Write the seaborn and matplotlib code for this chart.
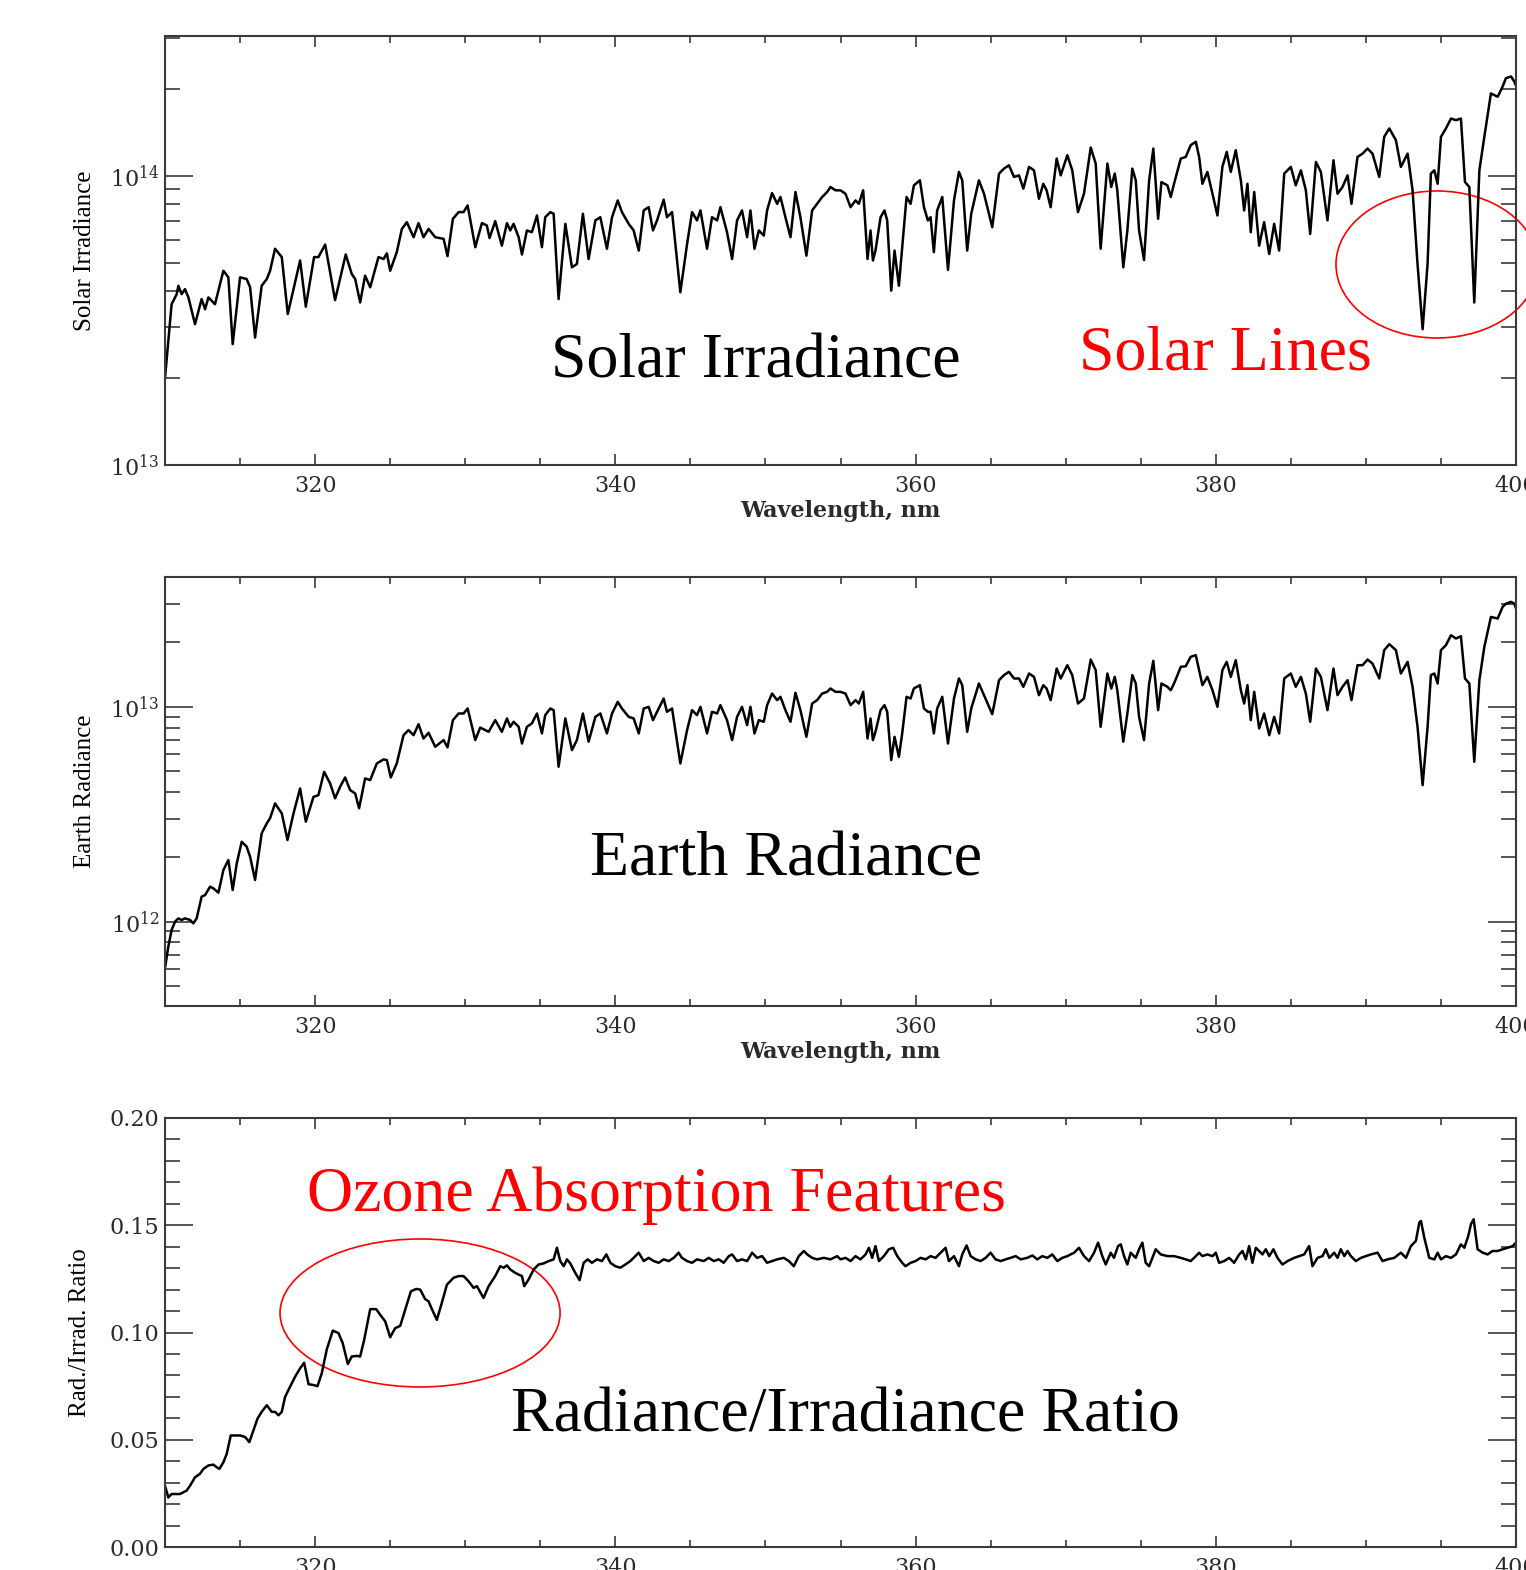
import matplotlib
matplotlib.use("Agg")
import matplotlib.pyplot as plt
import numpy as np
import pandas as pd
import seaborn as sns
from matplotlib.patches import Ellipse
from matplotlib.ticker import MultipleLocator, FixedLocator, NullFormatter, FixedFormatter, FormatStrFormatter

# ---------------- data ----------------
# Solar irradiance, units of 1e13
solar_wl = [
    310.0, 310.44, 310.78, 310.89, 311.11, 311.33, 311.56, 312.0, 312.44, 312.67,
    312.89, 313.33, 313.89, 314.22, 314.51, 315.0, 315.44, 315.67, 316.0, 316.44,
    316.78, 317.0, 317.33, 317.78, 318.18, 319.0, 319.38, 319.93, 320.22, 320.67,
    321.33, 322.04, 322.44, 322.67, 323.0, 323.33, 323.67, 324.22, 324.56, 324.78,
    325.0, 325.44, 325.78, 326.11, 326.56, 326.89, 327.22, 327.56, 328.0, 328.56,
    328.82, 329.18, 329.56, 329.89, 330.16, 330.67, 331.11, 331.44, 331.62, 332.0,
    332.44, 332.78, 333.0, 333.22, 333.56, 333.78, 334.11, 334.44, 334.78, 335.11,
    335.33, 335.67, 335.89, 336.22, 336.67, 337.11, 337.44, 337.84, 338.22, 338.67,
    339.0, 339.44, 339.78, 340.16, 340.44, 340.89, 341.22, 341.56, 341.89, 342.22,
    342.51, 342.78, 343.22, 343.44, 343.78, 344.33, 344.78, 345.11, 345.44, 345.67,
    346.11, 346.44, 346.78, 347.0, 347.44, 347.78, 348.11, 348.44, 348.78, 349.0,
    349.27, 349.56, 349.89, 350.11, 350.44, 350.78, 351.0, 351.33, 351.67, 352.0,
    352.33, 352.73, 353.11, 353.44, 353.78, 354.11, 354.33, 354.67, 355.0, 355.33,
    355.67, 356.0, 356.22, 356.51, 356.8, 357.0, 357.16, 357.33, 357.67, 357.93,
    358.11, 358.38, 358.6, 358.89, 359.11, 359.4, 359.67, 359.89, 360.29, 360.56,
    360.82, 361.0, 361.22, 361.44, 361.78, 362.16, 362.56, 362.89, 363.11, 363.44,
    363.71, 364.22, 364.56, 365.11, 365.56, 365.89, 366.22, 366.56, 366.89, 367.18,
    367.56, 367.89, 368.22, 368.51, 368.73, 369.0, 369.4, 369.67, 370.11, 370.44,
    370.82, 371.22, 371.67, 372.0, 372.33, 372.78, 373.04, 373.27, 373.44, 373.84,
    374.11, 374.44, 374.67, 374.89, 375.22, 375.56, 375.84, 376.16, 376.38, 376.78,
    377.0, 377.22, 377.67, 378.0, 378.33, 378.67, 378.89, 379.11, 379.44, 379.78,
    380.11, 380.44, 380.73, 381.0, 381.33, 381.67, 381.89, 382.11, 382.33, 382.56,
    382.89, 383.22, 383.56, 383.89, 384.22, 384.56, 385.0, 385.33, 385.67, 386.0,
    386.29, 386.67, 387.0, 387.44, 387.84, 388.11, 388.44, 388.78, 389.04, 389.44,
    389.78, 390.11, 390.44, 390.89, 391.22, 391.56, 392.0, 392.33, 392.78, 393.11,
    393.44, 393.78, 394.11, 394.33, 394.56, 394.78, 395.0, 395.33, 395.67, 396.0,
    396.33, 396.6, 396.89, 397.22, 397.56, 397.89, 398.33, 398.78, 399.11, 399.33,
    399.67, 399.89, 400.0,
]
solar_irr = [
    2.0, 3.6, 3.9, 4.17, 3.9, 4.06, 3.8, 3.07, 3.75, 3.46,
    3.8, 3.6, 4.7, 4.46, 2.62, 4.46, 4.4, 4.12, 2.76, 4.17,
    4.4, 4.7, 5.6, 5.24, 3.33, 5.1, 3.53, 5.24, 5.24, 5.79,
    3.72, 5.35, 4.58, 4.4, 3.65, 4.52, 4.12, 5.24, 5.16, 5.4,
    4.7, 5.45, 6.56, 6.92, 6.14, 6.87, 6.14, 6.56, 6.14, 6.06,
    5.28, 7.11, 7.5, 7.5, 7.91, 5.67, 6.87, 6.74, 6.1, 6.98,
    5.74, 6.87, 6.48, 6.83, 6.14, 5.35, 6.48, 6.39, 7.3, 5.67,
    7.2, 7.5, 7.4, 3.75, 6.83, 4.83, 4.96, 7.4, 5.16, 7.02,
    7.2, 5.6, 7.2, 8.23, 7.5, 6.83, 6.48, 5.52, 7.6, 7.8,
    6.48, 7.02, 8.28, 7.2, 7.5, 3.96, 5.82, 7.5, 7.02, 7.6,
    5.6, 7.2, 7.02, 7.8, 6.39, 5.16, 7.02, 7.6, 6.14, 7.6,
    5.6, 6.48, 6.22, 7.6, 8.73, 8.01, 8.46, 7.2, 6.14, 8.8,
    7.2, 5.3, 7.6, 8.01, 8.46, 8.8, 9.16, 8.92, 8.92, 8.68,
    7.8, 8.23, 8.01, 8.92, 5.16, 6.48, 5.1, 5.52, 7.2, 7.6,
    7.02, 4.01, 5.52, 4.17, 5.67, 8.46, 8.01, 9.28, 9.66, 7.8,
    7.02, 7.2, 5.45, 7.6, 8.46, 4.73, 8.23, 10.33, 9.66, 5.52,
    7.4, 9.66, 8.68, 6.65, 10.19, 10.6, 10.89, 9.92, 10.05, 9.04,
    10.75, 10.46, 8.34, 9.4, 8.92, 7.8, 11.49, 10.05, 11.8, 10.46,
    7.5, 8.68, 12.54, 11.04, 5.6, 11.04, 9.16, 10.19, 8.92, 4.83,
    6.48, 10.6, 9.66, 6.48, 5.12, 9.66, 12.44, 7.11, 9.53, 9.28,
    8.46, 9.4, 11.49, 11.64, 12.78, 13.13, 11.64, 9.4, 10.33, 8.68,
    7.3, 10.75, 12.11, 10.33, 12.28, 9.66, 7.6, 9.4, 6.39, 8.8,
    5.74, 6.92, 5.37, 6.83, 5.52, 10.19, 10.75, 9.28, 10.46, 8.92,
    6.3, 11.18, 10.33, 7.02, 11.33, 8.68, 9.16, 10.05, 8.01, 11.64,
    11.95, 12.44, 11.95, 9.92, 13.66, 14.6, 13.3, 10.75, 11.95, 8.92,
    4.96, 2.95, 4.96, 10.19, 10.46, 9.4, 13.66, 14.6, 15.8, 15.6,
    15.8, 9.53, 9.16, 3.65, 10.46, 13.66, 19.3, 18.8, 20.4, 21.8,
    22.1, 21.2, 20.5,
]

# Earth radiance, units of 1e12
earth_wl = [
    310.0, 310.22, 310.44, 310.67, 310.89, 311.11, 311.33, 311.67, 311.89, 312.11,
    312.44, 312.67, 313.0, 313.22, 313.56, 313.89, 314.22, 314.51, 314.78, 315.11,
    315.44, 315.67, 316.0, 316.44, 316.78, 317.0, 317.33, 317.78, 318.16, 318.56,
    319.0, 319.38, 319.89, 320.22, 320.6, 321.0, 321.33, 321.67, 322.0, 322.33,
    322.67, 322.93, 323.33, 323.67, 324.11, 324.56, 324.78, 325.04, 325.44, 325.89,
    326.22, 326.56, 326.89, 327.22, 327.56, 328.0, 328.56, 328.82, 329.18, 329.56,
    329.89, 330.16, 330.67, 331.0, 331.56, 332.0, 332.44, 332.78, 333.0, 333.22,
    333.56, 333.78, 334.11, 334.44, 334.78, 335.11, 335.33, 335.67, 335.89, 336.22,
    336.67, 337.11, 337.44, 337.84, 338.22, 338.67, 339.0, 339.44, 339.78, 340.16,
    340.44, 340.89, 341.22, 341.56, 341.89, 342.22, 342.51, 342.78, 343.22, 343.44,
    343.78, 344.33, 344.78, 345.11, 345.44, 345.67, 346.11, 346.44, 346.78, 347.0,
    347.44, 347.78, 348.11, 348.44, 348.78, 349.0, 349.27, 349.56, 349.89, 350.11,
    350.44, 350.78, 351.0, 351.33, 351.67, 352.0, 352.33, 352.73, 353.11, 353.44,
    353.78, 354.11, 354.33, 354.67, 355.0, 355.33, 355.67, 356.0, 356.22, 356.51,
    356.8, 357.0, 357.16, 357.33, 357.67, 357.93, 358.11, 358.38, 358.6, 358.89,
    359.11, 359.4, 359.67, 359.89, 360.29, 360.56, 360.82, 361.0, 361.22, 361.44,
    361.78, 362.16, 362.56, 362.89, 363.11, 363.44, 363.71, 364.22, 364.56, 365.11,
    365.56, 365.89, 366.22, 366.56, 366.89, 367.18, 367.56, 367.89, 368.22, 368.51,
    368.73, 369.0, 369.4, 369.67, 370.11, 370.44, 370.82, 371.22, 371.67, 372.0,
    372.33, 372.78, 373.04, 373.27, 373.44, 373.84, 374.11, 374.44, 374.67, 374.89,
    375.22, 375.56, 375.84, 376.16, 376.38, 376.78, 377.0, 377.22, 377.67, 378.0,
    378.33, 378.67, 378.89, 379.11, 379.44, 379.78, 380.11, 380.44, 380.73, 381.0,
    381.33, 381.67, 381.89, 382.11, 382.33, 382.56, 382.89, 383.22, 383.56, 383.89,
    384.22, 384.56, 385.0, 385.33, 385.67, 386.0, 386.29, 386.67, 387.0, 387.44,
    387.84, 388.11, 388.44, 388.78, 389.04, 389.44, 389.78, 390.11, 390.44, 390.89,
    391.22, 391.56, 392.0, 392.33, 392.78, 393.11, 393.44, 393.78, 394.11, 394.33,
    394.56, 394.78, 395.0, 395.33, 395.67, 396.0, 396.33, 396.6, 396.89, 397.22,
    397.56, 397.89, 398.33, 398.78, 399.11, 399.33, 399.67, 399.89, 400.0,
]
earth_rad = [
    0.607, 0.765, 0.915, 1.0, 1.036, 1.018, 1.036, 1.018, 0.982, 1.036,
    1.307, 1.33, 1.455, 1.429, 1.364, 1.739, 1.936, 1.404, 1.868, 2.355,
    2.233, 2.006, 1.563, 2.576, 2.867, 3.03, 3.55, 3.19, 2.4, 3.19,
    4.17, 2.92, 3.81, 3.88, 4.98, 4.4, 3.75, 4.25, 4.69, 4.1,
    3.95, 3.37, 4.64, 4.56, 5.45, 5.69, 5.65, 4.69, 5.45, 7.38,
    7.79, 7.38, 8.3, 7.12, 7.57, 6.52, 7.0, 6.47, 8.67, 9.31,
    9.31, 9.82, 7.0, 8.01, 7.65, 8.67, 7.65, 8.83, 8.07, 8.52,
    8.07, 6.75, 8.07, 8.37, 9.31, 7.52, 9.15, 9.82, 9.65, 5.26,
    8.83, 6.29, 7.0, 9.31, 6.88, 8.98, 9.31, 7.52, 9.31, 10.55,
    9.82, 8.98, 8.83, 7.52, 9.82, 10.0, 8.67, 9.48, 10.93, 9.48,
    9.82, 5.45, 7.79, 9.65, 9.15, 10.0, 7.52, 9.48, 9.31, 10.18,
    8.67, 7.0, 8.98, 10.0, 8.22, 10.0, 7.52, 8.67, 8.52, 10.18,
    11.53, 10.74, 11.13, 9.65, 8.52, 11.62, 9.65, 7.25, 10.36, 10.74,
    11.53, 11.74, 12.17, 11.74, 11.74, 11.53, 10.18, 10.74, 10.36, 11.74,
    7.12, 8.83, 7.0, 7.65, 9.65, 10.18, 9.48, 5.65, 7.25, 5.85,
    7.52, 11.13, 10.93, 12.17, 12.61, 9.82, 9.48, 9.48, 7.52, 9.82,
    11.13, 6.75, 10.93, 13.55, 12.61, 7.65, 9.82, 12.84, 11.33, 9.24,
    13.3, 14.04, 14.55, 13.55, 13.55, 12.39, 14.29, 13.79, 11.33, 12.61,
    12.17, 10.74, 15.07, 13.55, 15.62, 14.04, 10.36, 10.93, 16.6, 14.81,
    8.07, 14.29, 12.17, 13.79, 11.95, 6.88, 9.31, 14.04, 12.84, 8.98,
    7.0, 12.84, 16.37, 9.65, 12.84, 12.39, 11.95, 12.84, 15.35, 15.45,
    17.09, 17.39, 14.81, 12.61, 13.79, 11.95, 10.0, 14.81, 16.19, 13.79,
    16.48, 11.95, 10.36, 12.61, 8.67, 11.74, 7.93, 9.31, 7.38, 8.98,
    7.52, 13.55, 14.29, 12.39, 13.79, 11.53, 8.52, 15.07, 13.79, 9.65,
    15.07, 11.33, 12.39, 13.3, 10.74, 15.62, 15.62, 16.6, 15.9, 13.55,
    18.35, 19.57, 18.35, 14.29, 16.19, 12.39, 8.07, 4.32, 8.07, 14.04,
    14.29, 12.84, 18.35, 19.35, 21.54, 20.79, 21.31, 13.55, 12.84, 5.55,
    13.3, 19.01, 26.2, 25.76, 29.2, 30.2, 30.8, 30.2, 28.7,
]

# Radiance / irradiance ratio
ratio_wl = [
    310.0, 310.22, 310.44, 310.67, 311.0, 311.44, 311.67, 312.0, 312.33, 312.56,
    312.89, 313.22, 313.44, 313.62, 313.89, 314.11, 314.38, 314.67, 315.0, 315.33,
    315.62, 315.89, 316.16, 316.44, 316.78, 317.11, 317.33, 317.56, 317.78, 318.0,
    318.33, 318.67, 319.0, 319.27, 319.56, 319.89, 320.16, 320.44, 320.78, 321.18,
    321.56, 321.84, 322.18, 322.44, 322.78, 323.0, 323.27, 323.67, 324.07, 324.33,
    324.67, 325.0, 325.33, 325.67, 326.0, 326.38, 326.73, 327.0, 327.33, 327.56,
    327.78, 328.11, 328.44, 328.78, 329.22, 329.56, 329.89, 330.22, 330.56, 330.78,
    331.22, 331.56, 332.0, 332.33, 332.56, 332.78, 333.0, 333.33, 333.56, 333.78,
    333.93, 334.22, 334.56, 334.89, 335.22, 335.56, 335.89, 336.11, 336.33, 336.56,
    336.78, 337.0, 337.33, 337.62, 337.89, 338.16, 338.44, 338.78, 339.11, 339.4,
    339.67, 340.0, 340.33, 340.67, 341.0, 341.33, 341.56, 341.89, 342.22, 342.56,
    342.89, 343.22, 343.56, 343.89, 344.22, 344.44, 344.78, 345.11, 345.44, 345.89,
    346.22, 346.56, 346.89, 347.22, 347.56, 347.78, 348.11, 348.44, 348.78, 349.11,
    349.44, 349.78, 350.11, 350.44, 350.78, 351.22, 351.56, 351.89, 352.22, 352.56,
    352.78, 353.11, 353.44, 353.89, 354.33, 354.78, 355.0, 355.33, 355.67, 356.0,
    356.33, 356.67, 356.89, 357.11, 357.33, 357.56, 357.89, 358.22, 358.51, 358.78,
    359.11, 359.33, 359.67, 360.0, 360.33, 360.67, 361.0, 361.33, 361.67, 362.0,
    362.22, 362.56, 362.89, 363.11, 363.4, 363.67, 364.0, 364.33, 364.67, 365.0,
    365.33, 365.67, 366.0, 366.33, 366.67, 367.0, 367.44, 367.78, 368.11, 368.44,
    368.78, 369.11, 369.44, 369.78, 370.11, 370.56, 370.89, 371.22, 371.56, 371.89,
    372.16, 372.44, 372.67, 373.0, 373.22, 373.49, 373.67, 373.89, 374.11, 374.33,
    374.67, 374.89, 375.11, 375.33, 375.56, 375.78, 376.0, 376.33, 376.78, 377.22,
    377.67, 378.0, 378.33, 378.67, 378.89, 379.11, 379.44, 379.78, 380.0, 380.22,
    380.56, 380.89, 381.22, 381.56, 381.78, 382.0, 382.22, 382.44, 382.67, 382.89,
    383.11, 383.33, 383.56, 383.84, 384.11, 384.44, 384.78, 385.22, 385.56, 385.89,
    386.22, 386.44, 386.78, 387.11, 387.33, 387.56, 387.89, 388.11, 388.33, 388.56,
    388.78, 389.0, 389.33, 389.67, 390.0, 390.33, 390.78, 391.11, 391.44, 391.89,
    392.33, 392.67, 393.0, 393.33, 393.56, 393.67, 393.89, 394.22, 394.56, 394.78,
    395.0, 395.33, 395.67, 396.0, 396.33, 396.56, 396.82, 397.0, 397.18, 397.44,
    397.78, 398.11, 398.44, 398.78, 399.11, 399.44, 399.78, 400.0,
]
ratio_val = [
    0.0286, 0.0231, 0.0247, 0.0247, 0.0247, 0.0263, 0.0286, 0.0325, 0.0341, 0.0364,
    0.0380, 0.0384, 0.0372, 0.0364, 0.0395, 0.0434, 0.0520, 0.0520, 0.0520, 0.0513,
    0.0489, 0.0544, 0.0598, 0.0630, 0.0661, 0.0630, 0.0630, 0.0614, 0.0630, 0.0700,
    0.0747, 0.0794, 0.0833, 0.0859, 0.0759, 0.0755, 0.0750, 0.0809, 0.0922, 0.1009,
    0.0997, 0.0950, 0.0853, 0.0888, 0.0891, 0.0888, 0.0966, 0.1109, 0.1109, 0.1083,
    0.1052, 0.0978, 0.1020, 0.1031, 0.1106, 0.1192, 0.1203, 0.1200, 0.1156, 0.1145,
    0.1109, 0.1059, 0.1138, 0.1223, 0.1255, 0.1263, 0.1263, 0.1239, 0.1208, 0.1216,
    0.1161, 0.1216, 0.1263, 0.1309, 0.1302, 0.1313, 0.1294, 0.1278, 0.1270, 0.1263,
    0.1216, 0.1247, 0.1294, 0.1317, 0.1322, 0.1333, 0.1341, 0.1395, 0.1333, 0.1309,
    0.1341, 0.1322, 0.1278, 0.1244, 0.1325, 0.1341, 0.1325, 0.1341, 0.1333, 0.1364,
    0.1325, 0.1309, 0.1302, 0.1317, 0.1333, 0.1356, 0.1372, 0.1333, 0.1348, 0.1333,
    0.1325, 0.1341, 0.1333, 0.1348, 0.1372, 0.1348, 0.1333, 0.1325, 0.1341, 0.1333,
    0.1348, 0.1333, 0.1341, 0.1325, 0.1356, 0.1364, 0.1333, 0.1341, 0.1333, 0.1372,
    0.1348, 0.1356, 0.1325, 0.1333, 0.1341, 0.1348, 0.1333, 0.1309, 0.1356, 0.1380,
    0.1364, 0.1348, 0.1341, 0.1348, 0.1341, 0.1356, 0.1341, 0.1348, 0.1333, 0.1356,
    0.1341, 0.1364, 0.1395, 0.1348, 0.1403, 0.1333, 0.1356, 0.1388, 0.1395, 0.1356,
    0.1325, 0.1309, 0.1325, 0.1333, 0.1348, 0.1341, 0.1356, 0.1348, 0.1372, 0.1395,
    0.1333, 0.1356, 0.1309, 0.1364, 0.1406, 0.1356, 0.1341, 0.1333, 0.1348, 0.1372,
    0.1341, 0.1333, 0.1341, 0.1348, 0.1356, 0.1341, 0.1348, 0.1359, 0.1341, 0.1356,
    0.1348, 0.1364, 0.1333, 0.1348, 0.1356, 0.1372, 0.1395, 0.1356, 0.1333, 0.1372,
    0.1419, 0.1356, 0.1317, 0.1372, 0.1348, 0.1403, 0.1411, 0.1356, 0.1317, 0.1372,
    0.1348, 0.1388, 0.1419, 0.1325, 0.1309, 0.1348, 0.1388, 0.1364, 0.1356, 0.1356,
    0.1348, 0.1341, 0.1333, 0.1356, 0.1372, 0.1356, 0.1364, 0.1356, 0.1372, 0.1325,
    0.1333, 0.1348, 0.1325, 0.1364, 0.1380, 0.1341, 0.1403, 0.1325, 0.1395, 0.1380,
    0.1364, 0.1388, 0.1356, 0.1388, 0.1348, 0.1317, 0.1333, 0.1348, 0.1356, 0.1364,
    0.1403, 0.1309, 0.1348, 0.1356, 0.1388, 0.1348, 0.1372, 0.1348, 0.1388, 0.1356,
    0.1380, 0.1356, 0.1333, 0.1348, 0.1356, 0.1364, 0.1372, 0.1333, 0.1341, 0.1348,
    0.1372, 0.1348, 0.1403, 0.1427, 0.1513, 0.1520, 0.1442, 0.1348, 0.1341, 0.1372,
    0.1341, 0.1356, 0.1348, 0.1364, 0.1411, 0.1395, 0.1450, 0.1505, 0.1528, 0.1388,
    0.1372, 0.1364, 0.1380, 0.1380, 0.1388, 0.1395, 0.1403, 0.1419,
]

x_major_ticks = [320, 340, 360, 380, 400]
top_major = [1e13, 1e14]
top_labels = [r"$\mathregular{10^{13}}$", r"$\mathregular{10^{14}}$"]
mid_major = [1e12, 1e13]
mid_labels = [r"$\mathregular{10^{12}}$", r"$\mathregular{10^{13}}$"]

assert len(solar_wl) == len(solar_irr)
assert len(earth_wl) == len(earth_rad)
assert len(ratio_wl) == len(ratio_val)

df_sol = pd.DataFrame({"wl": solar_wl, "val": np.array(solar_irr) * 1e13})
df_ear = pd.DataFrame({"wl": earth_wl, "val": np.array(earth_rad) * 1e12})
df_rat = pd.DataFrame({"wl": ratio_wl, "val": ratio_val})

# ---------------- style ----------------
sns.set_theme(style="white")
plt.rcParams["font.family"] = ["DejaVu Serif"]
plt.rcParams["mathtext.fontset"] = "dejavuserif"

W, H = 1526, 1570
fig = plt.figure(figsize=(W / 100, H / 100), dpi=100)
fig.patch.set_facecolor("white")


def px_axes(left, top, right, bottom):
    return fig.add_axes([left / W, 1 - bottom / H, (right - left) / W, (bottom - top) / H])


ax1 = px_axes(165, 36, 1516, 465)
ax2 = px_axes(165, 577, 1516, 1006)
ax3 = px_axes(165, 1118, 1516, 1547)

FRAME = "#3a3a3a"
LABEL_C = "#2a2a2a"
SERIF = ["Liberation Serif", "DejaVu Serif"]

for ax, df in ((ax1, df_sol), (ax2, df_ear), (ax3, df_rat)):
    sns.lineplot(data=df, x="wl", y="val", ax=ax, color="black", linewidth=1.8,
                 estimator=None, sort=False, solid_joinstyle="round")
    ax.set_facecolor("white")
    for s in ax.spines.values():
        s.set_visible(True)
        s.set_color(FRAME)
        s.set_linewidth(1.5)
    ax.set_xlim(310, 400)
    ax.xaxis.set_major_locator(FixedLocator(x_major_ticks))
    ax.xaxis.set_minor_locator(MultipleLocator(5))
    ax.tick_params(axis="both", which="both", direction="in", top=True, right=True,
                   bottom=True, left=True, color=FRAME, width=1.2,
                   labelsize=16, labelcolor=LABEL_C)
    ax.tick_params(axis="x", which="major", length=8, pad=7)
    ax.tick_params(axis="x", which="minor", length=5)
    ax.tick_params(axis="y", which="major", length=20, pad=4)
    ax.tick_params(axis="y", which="minor", length=11)
    ax.grid(False)
    ax.set_xlabel("")
    ax.set_ylabel("")

# top panel (log)
ax1.set_yscale("log")
ax1.set_ylim(1e13, 3.05e14)
ax1.yaxis.set_major_locator(FixedLocator(top_major))
ax1.yaxis.set_major_formatter(FixedFormatter(top_labels))
ax1.yaxis.set_minor_locator(FixedLocator([k * 1e13 for k in range(2, 10)] + [2e14, 3e14]))
ax1.yaxis.set_minor_formatter(NullFormatter())

# middle panel (log)
ax2.set_yscale("log")
ax2.set_ylim(4.05e11, 4.02e13)
ax2.yaxis.set_major_locator(FixedLocator(mid_major))
ax2.yaxis.set_major_formatter(FixedFormatter(mid_labels))
ax2.yaxis.set_minor_locator(FixedLocator([k * 1e11 for k in range(5, 10)] +
                                         [k * 1e12 for k in range(2, 10)] +
                                         [2e13, 3e13, 4e13]))
ax2.yaxis.set_minor_formatter(NullFormatter())

# bottom panel (linear)
ax3.set_ylim(0.0, 0.20)
ax3.yaxis.set_major_locator(MultipleLocator(0.05))
ax3.yaxis.set_minor_locator(MultipleLocator(0.01))
ax3.yaxis.set_major_formatter(FormatStrFormatter("%.2f"))

# axis labels
for ax in (ax1, ax2):
    ax.set_xlabel("Wavelength, nm", fontsize=16, fontweight="bold", color=LABEL_C)
    ax.xaxis.set_label_coords(0.5, -0.082)
ax1.set_ylabel("Solar Irradiance", family=SERIF, fontsize=18, color="black")
ax2.set_ylabel("Earth Radiance", family=SERIF, fontsize=18, color="black")
ax3.set_ylabel("Rad./Irrad. Ratio", family=SERIF, fontsize=18, color="black")
ax1.yaxis.set_label_coords(-0.051, 0.5)
ax2.yaxis.set_label_coords(-0.051, 0.5)
ax3.yaxis.set_label_coords(-0.055, 0.5)

# annotations (figure pixel positions -> fractions)
def ftext(x, y, s, color):
    fig.text(x / W, 1 - y / H, s, ha="left", va="baseline", fontsize=46,
             family=SERIF, color=color)

ftext(551, 378, "Solar Irradiance", "black")
ftext(1079, 370, "Solar Lines", "#ff0000")
ftext(590, 875, "Earth Radiance", "black")
ftext(307, 1211, "Ozone Absorption Features", "#ff0000")
ftext(511, 1431, "Radiance/Irradiance Ratio", "black")

ax1.add_patch(Ellipse((0.9415, 0.4674), 0.1495, 0.3427, transform=ax1.transAxes,
                      fill=False, edgecolor="#ff0000", linewidth=1.2, clip_on=False))
ax3.add_patch(Ellipse((0.1888, 0.5455), 0.2073, 0.345, transform=ax3.transAxes,
                      fill=False, edgecolor="#ff0000", linewidth=1.2, clip_on=False))

fig.savefig("out.png", dpi=100, facecolor="white")
